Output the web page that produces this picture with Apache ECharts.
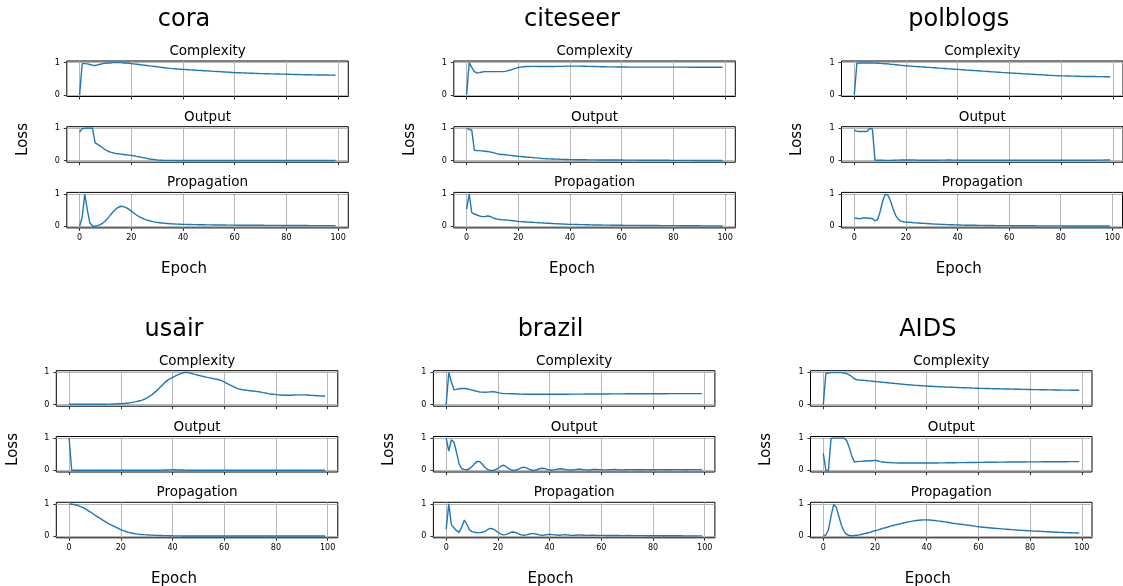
<!DOCTYPE html>
<html><head><meta charset="utf-8">
<script src="https://cdn.jsdelivr.net/npm/echarts@6/dist/echarts.min.js"></script>
<style>html,body{margin:0;padding:0;background:#fff}#c{width:1123px;height:586px}</style>
</head><body><div id="c"></div>
<script>
// ---------------- data ----------------
const datasets = ['cora', 'citeseer', 'polblogs', 'usair', 'brazil', 'AIDS'];
const subplots = ['Complexity', 'Output', 'Propagation'];
const xTicks = [0, 20, 40, 60, 80, 100];
const yTicks = [0, 1];

const cora_complexity = [
 0, 0.97, 0.97, 0.96, 0.94, 0.92, 0.91, 0.93, 0.95, 0.97,
 0.98, 0.99, 0.99, 1.0, 1.0, 1.0, 1.0, 0.99, 0.99, 0.98,
 0.97, 0.96, 0.95, 0.94, 0.93, 0.92, 0.91, 0.9, 0.89, 0.88,
 0.87, 0.86, 0.85, 0.84, 0.83, 0.82, 0.815, 0.81, 0.8, 0.795,
 0.79, 0.785, 0.78, 0.775, 0.77, 0.765, 0.76, 0.755, 0.75, 0.745,
 0.74, 0.735, 0.73, 0.725, 0.72, 0.715, 0.71, 0.705, 0.7, 0.695,
 0.69, 0.687, 0.684, 0.681, 0.678, 0.675, 0.672, 0.669, 0.666, 0.663,
 0.66, 0.658, 0.656, 0.654, 0.652, 0.65, 0.648, 0.646, 0.644, 0.642,
 0.64, 0.638, 0.636, 0.634, 0.632, 0.63, 0.628, 0.626, 0.624, 0.622,
 0.62, 0.619, 0.618, 0.617, 0.616, 0.615, 0.614, 0.613, 0.612, 0.61];
const cora_output = [
 0.88, 0.99, 1.0, 1.0, 1.0, 1.0, 0.55, 0.5, 0.45, 0.39,
 0.33, 0.29, 0.26, 0.24, 0.22, 0.21, 0.2, 0.19, 0.18, 0.17,
 0.16, 0.15, 0.13, 0.12, 0.1, 0.09, 0.07, 0.05, 0.04, 0.03,
 0.02, 0.015, 0.01, 0.008, 0.007, 0.006, 0.006, 0.005, 0.005, 0.005,
 0.005, 0.005, 0.005, 0.005, 0.005, 0.005, 0.005, 0.005, 0.005, 0.005,
 0.005, 0.005, 0.005, 0.005, 0.005, 0.004, 0.004, 0.004, 0.004, 0.004,
 0.004, 0.004, 0.004, 0.004, 0.004, 0.004, 0.004, 0.004, 0.004, 0.004,
 0.004, 0.004, 0.004, 0.004, 0.004, 0.003, 0.003, 0.003, 0.003, 0.003,
 0.003, 0.003, 0.003, 0.003, 0.003, 0.003, 0.003, 0.003, 0.003, 0.003,
 0.003, 0.003, 0.003, 0.003, 0.003, 0.003, 0.003, 0.003, 0.003, 0.003];
const cora_propagation = [
 0.0, 0.28, 1.0, 0.5, 0.1, 0.01, 0.0, 0.02, 0.05, 0.1,
 0.17, 0.26, 0.36, 0.45, 0.53, 0.59, 0.62, 0.61, 0.58, 0.53,
 0.47, 0.41, 0.35, 0.3, 0.26, 0.22, 0.19, 0.17, 0.15, 0.13,
 0.12, 0.11, 0.1, 0.092, 0.085, 0.08, 0.075, 0.07, 0.066, 0.063,
 0.06, 0.058, 0.056, 0.054, 0.052, 0.05, 0.048, 0.047, 0.046, 0.045,
 0.044, 0.043, 0.042, 0.041, 0.04, 0.039, 0.038, 0.037, 0.036, 0.035,
 0.035, 0.034, 0.034, 0.033, 0.033, 0.032, 0.032, 0.031, 0.031, 0.03,
 0.03, 0.03, 0.029, 0.029, 0.028, 0.028, 0.027, 0.027, 0.026, 0.026,
 0.025, 0.025, 0.025, 0.024, 0.024, 0.024, 0.023, 0.023, 0.023, 0.022,
 0.022, 0.022, 0.021, 0.021, 0.021, 0.02, 0.02, 0.02, 0.02, 0.02];

const citeseer_complexity = [
 0, 1.0, 0.85, 0.72, 0.68, 0.69, 0.71, 0.72, 0.72, 0.72,
 0.72, 0.72, 0.72, 0.72, 0.72, 0.73, 0.75, 0.77, 0.8, 0.82,
 0.85, 0.86, 0.87, 0.88, 0.88, 0.885, 0.885, 0.885, 0.88, 0.88,
 0.88, 0.88, 0.88, 0.88, 0.88, 0.885, 0.885, 0.885, 0.89, 0.89,
 0.89, 0.89, 0.89, 0.89, 0.89, 0.888, 0.886, 0.884, 0.882, 0.88,
 0.878, 0.876, 0.874, 0.872, 0.87, 0.869, 0.868, 0.867, 0.866, 0.865,
 0.864, 0.863, 0.862, 0.861, 0.86, 0.86, 0.86, 0.86, 0.86, 0.86,
 0.86, 0.86, 0.86, 0.86, 0.86, 0.86, 0.86, 0.86, 0.86, 0.86,
 0.86, 0.86, 0.86, 0.86, 0.86, 0.859, 0.858, 0.857, 0.856, 0.855,
 0.855, 0.855, 0.855, 0.855, 0.855, 0.855, 0.855, 0.855, 0.855, 0.855];
const citeseer_output = [
 1.0, 0.97, 0.94, 0.32, 0.31, 0.31, 0.3, 0.29, 0.28, 0.27,
 0.25, 0.23, 0.21, 0.19, 0.19, 0.18, 0.17, 0.16, 0.15, 0.14,
 0.13, 0.125, 0.12, 0.11, 0.105, 0.1, 0.09, 0.085, 0.075, 0.065,
 0.06, 0.057, 0.054, 0.05, 0.047, 0.044, 0.04, 0.038, 0.035, 0.033,
 0.03, 0.029, 0.028, 0.027, 0.026, 0.025, 0.024, 0.023, 0.022, 0.022,
 0.021, 0.02, 0.02, 0.019, 0.019, 0.018, 0.018, 0.017, 0.017, 0.016,
 0.016, 0.015, 0.015, 0.014, 0.014, 0.013, 0.013, 0.012, 0.012, 0.012,
 0.011, 0.011, 0.011, 0.01, 0.01, 0.01, 0.009, 0.009, 0.009, 0.008,
 0.008, 0.008, 0.007, 0.007, 0.007, 0.006, 0.006, 0.006, 0.005, 0.005,
 0.005, 0.005, 0.004, 0.004, 0.004, 0.003, 0.003, 0.003, 0.002, 0.002];
const citeseer_propagation = [
 0.53, 1.0, 0.42, 0.38, 0.35, 0.32, 0.3, 0.3, 0.32, 0.31,
 0.27, 0.24, 0.22, 0.21, 0.2, 0.195, 0.19, 0.18, 0.17, 0.16,
 0.15, 0.145, 0.14, 0.135, 0.13, 0.125, 0.12, 0.115, 0.11, 0.105,
 0.1, 0.096, 0.092, 0.088, 0.084, 0.08, 0.076, 0.072, 0.068, 0.064,
 0.06, 0.058, 0.056, 0.054, 0.052, 0.05, 0.048, 0.046, 0.044, 0.042,
 0.04, 0.039, 0.038, 0.037, 0.036, 0.035, 0.034, 0.033, 0.032, 0.031,
 0.03, 0.029, 0.029, 0.028, 0.028, 0.027, 0.027, 0.026, 0.026, 0.025,
 0.025, 0.024, 0.024, 0.023, 0.023, 0.022, 0.022, 0.021, 0.021, 0.02,
 0.02, 0.019, 0.019, 0.018, 0.018, 0.017, 0.017, 0.016, 0.016, 0.015,
 0.015, 0.014, 0.014, 0.013, 0.013, 0.012, 0.012, 0.012, 0.011, 0.011];

const polblogs_complexity = [
 0, 0.98, 0.99, 0.99, 0.99, 0.99, 0.99, 0.99, 0.985, 0.98,
 0.975, 0.97, 0.965, 0.96, 0.95, 0.945, 0.935, 0.925, 0.915, 0.91,
 0.9, 0.895, 0.89, 0.884, 0.878, 0.873, 0.867, 0.862, 0.856, 0.851,
 0.845, 0.84, 0.834, 0.829, 0.823, 0.818, 0.812, 0.807, 0.801, 0.796,
 0.79, 0.784, 0.779, 0.773, 0.768, 0.762, 0.757, 0.751, 0.746, 0.74,
 0.735, 0.729, 0.724, 0.718, 0.713, 0.707, 0.702, 0.696, 0.691, 0.685,
 0.68, 0.675, 0.671, 0.666, 0.661, 0.656, 0.652, 0.647, 0.642, 0.638,
 0.633, 0.628, 0.624, 0.619, 0.615, 0.61, 0.606, 0.601, 0.598, 0.595,
 0.59, 0.588, 0.586, 0.584, 0.582, 0.58, 0.578, 0.576, 0.574, 0.572,
 0.571, 0.57, 0.569, 0.568, 0.567, 0.566, 0.565, 0.564, 0.563, 0.562];
const polblogs_output = [
 0.94, 0.91, 0.9, 0.9, 0.9, 0.91, 1.0, 0.98, 0.02, 0.01,
 0.01, 0.01, 0.008, 0.008, 0.008, 0.01, 0.012, 0.015, 0.018, 0.02,
 0.02, 0.02, 0.018, 0.016, 0.014, 0.012, 0.012, 0.012, 0.012, 0.012,
 0.012, 0.012, 0.012, 0.013, 0.014, 0.015, 0.016, 0.016, 0.015, 0.014,
 0.013, 0.012, 0.011, 0.01, 0.01, 0.01, 0.01, 0.01, 0.01, 0.01,
 0.01, 0.01, 0.01, 0.01, 0.01, 0.01, 0.01, 0.01, 0.01, 0.01,
 0.01, 0.01, 0.01, 0.01, 0.01, 0.01, 0.01, 0.01, 0.01, 0.01,
 0.01, 0.01, 0.01, 0.01, 0.01, 0.01, 0.01, 0.01, 0.01, 0.01,
 0.01, 0.01, 0.01, 0.01, 0.01, 0.01, 0.01, 0.01, 0.01, 0.01,
 0.01, 0.01, 0.011, 0.012, 0.013, 0.014, 0.015, 0.016, 0.017, 0.018];
const polblogs_propagation = [
 0.26, 0.25, 0.23, 0.25, 0.27, 0.25, 0.25, 0.24, 0.17, 0.2,
 0.45, 0.78, 0.99, 0.97, 0.8, 0.55, 0.34, 0.22, 0.16, 0.14,
 0.13, 0.125, 0.12, 0.11, 0.105, 0.1, 0.095, 0.09, 0.085, 0.08,
 0.075, 0.07, 0.066, 0.062, 0.058, 0.055, 0.052, 0.049, 0.046, 0.043,
 0.04, 0.038, 0.036, 0.034, 0.033, 0.032, 0.031, 0.03, 0.029, 0.028,
 0.027, 0.026, 0.025, 0.024, 0.023, 0.022, 0.021, 0.02, 0.02, 0.019,
 0.019, 0.018, 0.018, 0.017, 0.017, 0.016, 0.016, 0.016, 0.015, 0.015,
 0.015, 0.014, 0.014, 0.014, 0.013, 0.013, 0.013, 0.012, 0.012, 0.012,
 0.012, 0.011, 0.011, 0.011, 0.011, 0.01, 0.01, 0.01, 0.01, 0.01,
 0.01, 0.01, 0.01, 0.01, 0.01, 0.01, 0.01, 0.01, 0.01, 0.01];

const usair_complexity = [
 0.01, 0.01, 0.01, 0.01, 0.01, 0.01, 0.01, 0.01, 0.01, 0.01,
 0.01, 0.01, 0.01, 0.01, 0.012, 0.013, 0.015, 0.018, 0.02, 0.025,
 0.03, 0.035, 0.04, 0.05, 0.06, 0.075, 0.09, 0.11, 0.13, 0.16,
 0.2, 0.25, 0.3, 0.37, 0.44, 0.52, 0.6, 0.68, 0.75, 0.8,
 0.84, 0.88, 0.92, 0.95, 0.98, 1.0, 0.99, 0.97, 0.95, 0.93,
 0.91, 0.89, 0.87, 0.85, 0.835, 0.82, 0.8, 0.785, 0.77, 0.74,
 0.7, 0.66, 0.62, 0.58, 0.54, 0.5, 0.48, 0.46, 0.45, 0.44,
 0.43, 0.42, 0.41, 0.4, 0.39, 0.37, 0.36, 0.34, 0.33, 0.32,
 0.31, 0.3, 0.295, 0.29, 0.29, 0.29, 0.29, 0.295, 0.3, 0.3,
 0.3, 0.3, 0.295, 0.29, 0.285, 0.28, 0.275, 0.27, 0.265, 0.26];
const usair_output = [
 1.0, 0.01, 0.005, 0.005, 0.005, 0.005, 0.005, 0.005, 0.005, 0.005,
 0.005, 0.005, 0.005, 0.005, 0.005, 0.005, 0.005, 0.005, 0.005, 0.005,
 0.005, 0.005, 0.005, 0.005, 0.005, 0.005, 0.005, 0.005, 0.005, 0.005,
 0.005, 0.005, 0.005, 0.005, 0.005, 0.006, 0.008, 0.01, 0.012, 0.015,
 0.018, 0.018, 0.015, 0.012, 0.01, 0.008, 0.006, 0.005, 0.005, 0.005,
 0.005, 0.005, 0.005, 0.005, 0.005, 0.005, 0.005, 0.005, 0.005, 0.005,
 0.005, 0.005, 0.005, 0.005, 0.005, 0.005, 0.005, 0.005, 0.005, 0.005,
 0.005, 0.005, 0.005, 0.005, 0.005, 0.005, 0.005, 0.005, 0.005, 0.005,
 0.005, 0.005, 0.005, 0.005, 0.005, 0.005, 0.005, 0.005, 0.005, 0.005,
 0.005, 0.005, 0.005, 0.005, 0.005, 0.005, 0.005, 0.005, 0.005, 0.005];
const usair_propagation = [
 1.0, 0.99, 0.98, 0.96, 0.93, 0.9, 0.86, 0.81, 0.76, 0.71,
 0.65, 0.6, 0.55, 0.5, 0.45, 0.4, 0.36, 0.32, 0.28, 0.24,
 0.2, 0.17, 0.145, 0.12, 0.1, 0.085, 0.072, 0.062, 0.054, 0.047,
 0.042, 0.037, 0.033, 0.029, 0.026, 0.023, 0.02, 0.018, 0.016, 0.014,
 0.012, 0.011, 0.01, 0.009, 0.008, 0.008, 0.007, 0.007, 0.006, 0.006,
 0.006, 0.006, 0.005, 0.005, 0.005, 0.005, 0.005, 0.005, 0.005, 0.005,
 0.005, 0.005, 0.005, 0.005, 0.005, 0.005, 0.005, 0.005, 0.005, 0.005,
 0.005, 0.005, 0.005, 0.005, 0.005, 0.005, 0.005, 0.005, 0.005, 0.005,
 0.005, 0.005, 0.005, 0.005, 0.005, 0.005, 0.005, 0.005, 0.005, 0.005,
 0.005, 0.005, 0.005, 0.005, 0.005, 0.005, 0.005, 0.005, 0.005, 0.005];

const brazil_complexity = [
 0, 1.0, 0.7, 0.46, 0.47, 0.49, 0.5, 0.5, 0.49, 0.47,
 0.45, 0.43, 0.41, 0.39, 0.385, 0.38, 0.385, 0.395, 0.4, 0.39,
 0.37, 0.355, 0.345, 0.34, 0.34, 0.338, 0.335, 0.33, 0.328, 0.325,
 0.322, 0.32, 0.32, 0.32, 0.32, 0.32, 0.32, 0.32, 0.32, 0.32,
 0.32, 0.32, 0.32, 0.32, 0.32, 0.321, 0.322, 0.322, 0.323, 0.323,
 0.324, 0.324, 0.325, 0.325, 0.326, 0.326, 0.327, 0.327, 0.328, 0.328,
 0.329, 0.329, 0.33, 0.33, 0.331, 0.331, 0.332, 0.332, 0.333, 0.333,
 0.334, 0.334, 0.334, 0.335, 0.335, 0.335, 0.336, 0.336, 0.336, 0.337,
 0.337, 0.337, 0.338, 0.338, 0.338, 0.338, 0.339, 0.339, 0.339, 0.339,
 0.34, 0.34, 0.34, 0.34, 0.34, 0.34, 0.34, 0.34, 0.34, 0.34];
const brazil_output = [
 1.0, 0.6, 0.95, 0.88, 0.56, 0.2, 0.05, 0.03, 0.02, 0.05,
 0.12, 0.21, 0.28, 0.27, 0.19, 0.09, 0.03, 0.0, 0.0, 0.02,
 0.06, 0.12, 0.16, 0.13, 0.06, 0.02, 0.0, 0.01, 0.04, 0.08,
 0.1, 0.08, 0.04, 0.01, 0.0, 0.02, 0.05, 0.065, 0.06, 0.03,
 0.01, 0.01, 0.025, 0.04, 0.05, 0.045, 0.03, 0.015, 0.01, 0.015,
 0.025, 0.035, 0.035, 0.025, 0.015, 0.012, 0.018, 0.027, 0.03, 0.025,
 0.02, 0.015, 0.015, 0.02, 0.025, 0.027, 0.024, 0.019, 0.016, 0.018,
 0.022, 0.025, 0.024, 0.02, 0.018, 0.019, 0.022, 0.024, 0.023, 0.021,
 0.02, 0.021, 0.023, 0.024, 0.023, 0.022, 0.021, 0.022, 0.023, 0.024,
 0.024, 0.023, 0.022, 0.022, 0.023, 0.024, 0.024, 0.023, 0.023, 0.023];
const brazil_propagation = [
 0.22, 1.0, 0.36, 0.26, 0.17, 0.12, 0.28, 0.5, 0.37, 0.2,
 0.14, 0.12, 0.11, 0.11, 0.12, 0.15, 0.2, 0.24, 0.23, 0.18,
 0.12, 0.07, 0.04, 0.05, 0.08, 0.12, 0.13, 0.11, 0.07, 0.04,
 0.03, 0.04, 0.06, 0.08, 0.08, 0.06, 0.04, 0.03, 0.035, 0.05,
 0.06, 0.05, 0.04, 0.03, 0.03, 0.04, 0.045, 0.04, 0.03, 0.025,
 0.03, 0.035, 0.035, 0.03, 0.025, 0.025, 0.03, 0.03, 0.025, 0.02,
 0.025, 0.025, 0.022, 0.02, 0.02, 0.022, 0.022, 0.02, 0.018, 0.018,
 0.02, 0.02, 0.018, 0.016, 0.016, 0.017, 0.017, 0.016, 0.015, 0.015,
 0.015, 0.015, 0.014, 0.014, 0.014, 0.013, 0.013, 0.013, 0.012, 0.012,
 0.012, 0.012, 0.011, 0.011, 0.011, 0.01, 0.01, 0.01, 0.01, 0.01];

const aids_complexity = [
 0, 0.97, 0.98, 0.99, 0.99, 0.99, 0.99, 0.99, 0.98, 0.96,
 0.92, 0.87, 0.8, 0.77, 0.76, 0.755, 0.75, 0.74, 0.735, 0.725,
 0.715, 0.71, 0.7, 0.69, 0.685, 0.675, 0.665, 0.66, 0.65, 0.645,
 0.635, 0.63, 0.62, 0.615, 0.61, 0.6, 0.595, 0.59, 0.585, 0.58,
 0.575, 0.57, 0.566, 0.562, 0.558, 0.554, 0.55, 0.546, 0.542, 0.538,
 0.535, 0.532, 0.529, 0.526, 0.523, 0.52, 0.517, 0.514, 0.511, 0.508,
 0.505, 0.503, 0.501, 0.499, 0.497, 0.495, 0.493, 0.491, 0.489, 0.487,
 0.485, 0.483, 0.481, 0.479, 0.477, 0.476, 0.474, 0.472, 0.471, 0.469,
 0.468, 0.466, 0.465, 0.463, 0.462, 0.46, 0.459, 0.457, 0.456, 0.454,
 0.453, 0.452, 0.45, 0.449, 0.448, 0.447, 0.446, 0.445, 0.443, 0.442];
const aids_output = [
 0.53, 0.0, 0.0, 1.0, 1.0, 1.0, 1.0, 1.0, 1.0, 0.93,
 0.72, 0.45, 0.26, 0.27, 0.28, 0.28, 0.29, 0.29, 0.3, 0.3,
 0.31, 0.3, 0.27, 0.26, 0.25, 0.245, 0.24, 0.235, 0.232, 0.23,
 0.23, 0.23, 0.23, 0.23, 0.23, 0.23, 0.23, 0.23, 0.23, 0.23,
 0.23, 0.23, 0.23, 0.23, 0.23, 0.232, 0.233, 0.234, 0.235, 0.236,
 0.237, 0.238, 0.239, 0.24, 0.241, 0.242, 0.243, 0.244, 0.245, 0.246,
 0.247, 0.248, 0.249, 0.25, 0.251, 0.252, 0.253, 0.254, 0.255, 0.256,
 0.257, 0.258, 0.259, 0.26, 0.26, 0.261, 0.261, 0.262, 0.262, 0.263,
 0.263, 0.264, 0.264, 0.265, 0.265, 0.266, 0.266, 0.267, 0.267, 0.268,
 0.268, 0.268, 0.269, 0.269, 0.269, 0.27, 0.27, 0.27, 0.27, 0.27];
const aids_propagation = [
 0.0, 0.04, 0.2, 0.62, 0.98, 0.9, 0.62, 0.34, 0.15, 0.06,
 0.02, 0.015, 0.02, 0.03, 0.04, 0.06, 0.08, 0.1, 0.12, 0.145,
 0.17, 0.19, 0.215, 0.24, 0.26, 0.285, 0.31, 0.33, 0.35, 0.37,
 0.39, 0.41, 0.43, 0.445, 0.46, 0.475, 0.485, 0.495, 0.5, 0.505,
 0.505, 0.5, 0.495, 0.485, 0.475, 0.465, 0.455, 0.445, 0.43, 0.415,
 0.4, 0.39, 0.38, 0.37, 0.36, 0.35, 0.34, 0.33, 0.32, 0.305,
 0.29, 0.283, 0.276, 0.269, 0.262, 0.255, 0.248, 0.241, 0.234, 0.227,
 0.22, 0.214, 0.208, 0.202, 0.196, 0.19, 0.185, 0.18, 0.175, 0.17,
 0.165, 0.16, 0.156, 0.152, 0.148, 0.144, 0.14, 0.136, 0.132, 0.128,
 0.124, 0.12, 0.117, 0.114, 0.111, 0.108, 0.105, 0.102, 0.1, 0.098];

const panelSeries = [
  [cora_complexity, cora_output, cora_propagation],
  [citeseer_complexity, citeseer_output, citeseer_propagation],
  [polblogs_complexity, polblogs_output, polblogs_propagation],
  [usair_complexity, usair_output, usair_propagation],
  [brazil_complexity, brazil_output, brazil_propagation],
  [aids_complexity, aids_output, aids_propagation]
];

// ---------------- layout ----------------
const FONT = '"DejaVu Sans", sans-serif';
const gridLeft = [66.8, 453.8, 841.5, 56.3, 433.4, 810.5];
const gridWidth = 281.5;
const gridHeight = 35.5;
const rowTops = [[61, 126.7, 192.4], [370.7, 436.5, 502.3]];
const titleX = [184, 572, 958.7, 174, 550.5, 927.8];
const lossX = [22.8, 410.3, 797, 12.8, 389.5, 766.2];
const rowTitleY = [19.5, 329.5];
const rowEpochY = [269, 579];
const rowLossY = [139.5, 449.5];

const grids = [], xAxes = [], yAxes = [], series = [], graphics = [];

function txt(x, y, text, size, rot) {
  const el = {
    type: 'text', x: x, y: y, silent: true,
    style: {
      text: text, font: size + 'px ' + FONT, fill: '#000',
      textAlign: 'center', textVerticalAlign: 'middle',
      align: 'center', verticalAlign: 'middle'
    }
  };
  if (rot) el.rotation = rot;
  return el;
}

for (let p = 0; p < 6; p++) {
  const r = Math.floor(p / 3);
  graphics.push(txt(titleX[p], rowTitleY[r], datasets[p], 24));
  graphics.push(txt(titleX[p], rowEpochY[r], 'Epoch', 15));
  graphics.push(txt(lossX[p], rowLossY[r], 'Loss', 15, Math.PI / 2));
  for (let s = 0; s < 3; s++) {
    const idx = p * 3 + s;
    const top = rowTops[r][s];
    grids.push({
      left: gridLeft[p], top: top, width: gridWidth, height: gridHeight,
      show: true, borderColor: '#000', borderWidth: 1, backgroundColor: 'rgba(0,0,0,0)'
    });
    graphics.push(txt(gridLeft[p] + gridWidth / 2, top - 9.5, subplots[s], 13.5));
    xAxes.push({
      type: 'value', gridIndex: idx, min: -4.95, max: 103.95,
      axisLine: { show: false, onZero: false },
      axisTick: { show: true, length: 3, lineStyle: { color: '#000', width: 0.8 }, customValues: xTicks },
      axisLabel: { show: s === 2, customValues: xTicks, fontSize: 8, color: '#000', fontFamily: FONT, margin: 6.5 },
      splitLine: { show: false }
    });
    yAxes.push({
      type: 'value', gridIndex: idx, min: -0.05, max: 1.05,
      axisLine: { show: false, onZero: false },
      axisTick: { show: true, length: 3, lineStyle: { color: '#000', width: 0.8 }, customValues: yTicks },
      axisLabel: { show: true, customValues: yTicks, fontSize: 8, color: '#000', fontFamily: FONT, margin: 7 },
      splitLine: { show: false }
    });
    const vals = panelSeries[p][s];
    series.push({
      type: 'line', xAxisIndex: idx, yAxisIndex: idx,
      data: vals.map((v, i) => [i, v]),
      showSymbol: false, symbol: 'none', z: 3,
      lineStyle: { color: '#1f77b4', width: 1.4 },
      emphasis: { disabled: true },
      markLine: {
        silent: true, z: 1, symbol: ['none', 'none'], animation: false,
        label: { show: false },
        lineStyle: { color: '#b0b0b0', width: 0.9, type: 'solid' },
        emphasis: { disabled: true },
        data: xTicks.map(v => ({ xAxis: v })).concat(yTicks.map(v => ({ yAxis: v })))
      }
    });
  }
}

const chart = echarts.init(document.getElementById('c'), null, { renderer: 'canvas', width: 1123, height: 586 });
chart.setOption({
  backgroundColor: '#fff',
  animation: false,
  grid: grids,
  xAxis: xAxes,
  yAxis: yAxes,
  series: series,
  graphic: { elements: graphics }
});
</script></body></html>
